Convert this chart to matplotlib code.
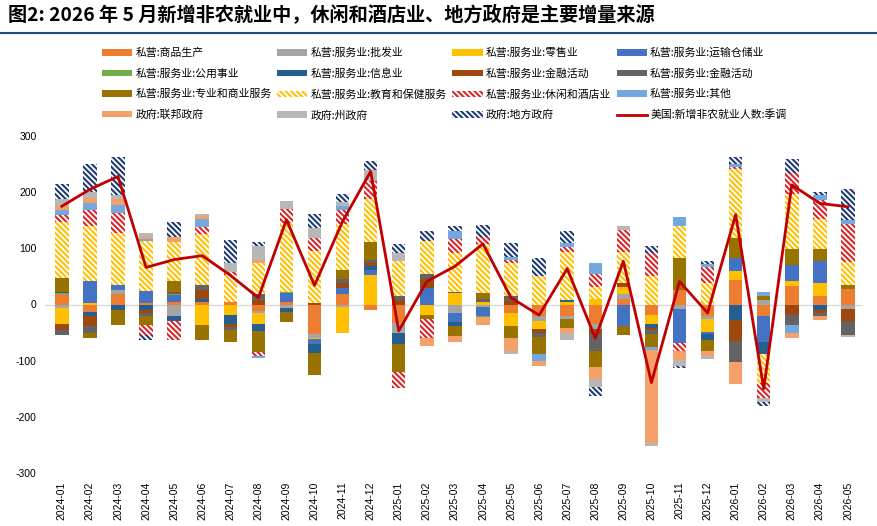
import numpy as np
import matplotlib
matplotlib.use("Agg")
import matplotlib.pyplot as plt
from matplotlib.patches import Patch
from matplotlib.lines import Line2D

plt.rcParams['font.family'] = ['Noto Sans CJK SC', 'DejaVu Sans']
plt.rcParams['hatch.linewidth'] = 1.5
plt.rcParams['axes.unicode_minus'] = False

# DATA (thousand persons)
months = ['2024-01', '2024-02', '2024-03', '2024-04', '2024-05', '2024-06', '2024-07', '2024-08',
          '2024-09', '2024-10', '2024-11', '2024-12', '2025-01', '2025-02', '2025-03', '2025-04',
          '2025-05', '2025-06', '2025-07', '2025-08', '2025-09', '2025-10', '2025-11', '2025-12',
          '2026-01', '2026-02', '2026-03', '2026-04', '2026-05']

goods = [19, -14, 18, 3, 4, 5, 5, -12, 4, -53, 19, -10, -33, 0, 0, 0, -16, -20, -21, -35, 10, -18, 26, -20, 44, -21, 33, 15, 27]
wholesale = [-7, 0, 8, 0, -20, 0, 0, -3, -7, -6, -4, 0, -18, 0, -16, -5, 0, -10, -5, -9, 9, 0, -8, -5, 0, 8, 0, 0, -8]
retail = [-28, 3, 0, 0, 0, -36, -18, -20, 0, -3, -46, 53, 0, -18, 20, 4, -22, -14, 4, 10, 12, -16, 0, -24, 15, 0, 9, 24, 0]
transport = [0, 38, 9, 21, 13, 0, 0, 0, 16, -9, 11, 9, 0, 30, -15, -16, 0, 0, 0, 0, -38, 0, -60, -4, 24, -46, 28, 38, 0]
utilities = [1, 1, 0, 0, 1, 0, 0, 0, 2, 0, 0, 0, 0, 0, 0, -2, 0, 0, 1, 0, 0, 0, 0, 0, 0, 0, 0, 0, 0]
info = [2, -6, -10, -9, -10, 5, -16, -12, -7, -16, 0, 6, -19, 0, -8, 0, 0, 0, 3, 0, 0, -8, 0, -10, -27, -22, 0, -10, 0]
finance = [-10, -18, 0, -7, 2, 15, -6, 8, 0, 3, 8, 5, 8, 15, 0, 0, 7, -6, 0, -8, 8, -4, 0, 0, -38, 0, -18, -6, -22]
finance2 = [-10, -13, 0, -5, 2, 10, -5, 10, 0, 0, 8, 7, 8, 9, 2, 5, 8, -8, 0, -30, 0, -6, 0, 0, -38, 0, -18, -5, -24]
prof = [26, -9, -27, -15, 19, -27, -22, -38, -18, -39, 15, 31, -51, -8, -17, 12, -21, -31, -15, -30, -17, -24, 57, -19, 35, 8, 28, 22, 7]
edu = [99, 98, 93, 89, 70, 90, 47, 56, 123, 93, 83, 76, 61, 59, 70, 86, 59, 50, 85, 21, 55, 50, 56, 38, 124, -50, 98, 54, 41]
leisure = [12, 28, 35, -18, -33, 13, 6, -6, 25, 22, 25, 33, -27, -34, 25, 14, 5, 0, 10, 24, 38, 41, -15, 28, 3, -28, 38, 33, 69]
other = [10, 12, 15, 3, 0, 14, 0, -4, 0, 0, 7, 0, 0, 0, 14, 0, 6, -12, 7, 19, 0, -5, 17, 6, 5, 6, -15, 9, 6]
federal = [6, 10, 9, 5, 10, 6, 0, 6, 0, 0, 0, 0, 0, -14, -10, -13, -24, -8, -9, -21, 0, -166, -15, -9, -38, 0, -9, -6, 0]
state = [12, 11, 8, 7, 0, 3, 15, 25, 14, 18, 7, 20, 15, 0, 0, 0, -6, 0, -14, -13, 7, -5, -11, -6, 0, -6, 0, 0, -4]
local = [27, 50, 67, -9, 25, 0, 41, 6, 0, 25, 13, 16, 16, 17, 8, 20, 25, 33, 21, -17, 0, 13, -4, 6, 13, -7, 25, 6, 56]
payrolls = [175, 205, 228, 66, 80, 87, 52, 12, 151, 34, 148, 237, -47, 41, 68, 108, 12, -19, 64, -60, 77, -139, 41, -15, 160, -150, 213, 180, 174]

names = ['私营:商品生产', '私营:服务业:批发业', '私营:服务业:零售业', '私营:服务业:运输仓储业',
         '私营:服务业:公用事业', '私营:服务业:信息业', '私营:服务业:金融活动', '私营:服务业:金融活动',
         '私营:服务业:专业和商业服务', '私营:服务业:教育和保健服务', '私营:服务业:休闲和酒店业', '私营:服务业:其他',
         '政府:联邦政府', '政府:州政府', '政府:地方政府']
line_name = '美国:新增非农就业人数:季调'

series = [goods, wholesale, retail, transport, utilities, info, finance, finance2,
          prof, edu, leisure, other, federal, state, local]

HATCH = '\\' * 6
# (face colour, hatch colour, hatch)
styles = [('#ED7D31', None, None), ('#A5A5A5', None, None), ('#FFC000', None, None),
          ('#4472C4', None, None), ('#70AD47', None, None), ('#255E91', None, None),
          ('#9E480E', None, None), ('#636363', None, None), ('#997300', None, None),
          ('white', '#FFC000', HATCH), ('white', '#D9262A', HATCH), ('#72A8DE', None, None),
          ('#F4A068', None, None), ('#B7B7B7', None, None), ('white', '#1F3B73', HATCH)]

fig = plt.figure(figsize=(8.77, 5.26), dpi=100)
ax = fig.add_axes([45 / 877, 1 - 473 / 526, (862 - 45) / 877, (473 - 136) / 526])

x = np.arange(len(months))
w = 0.48
pos_base = np.zeros(len(months))
neg_base = np.zeros(len(months))
handles = []
for vals, (fc, hc, hatch), nm in zip(series, styles, names):
    v = np.array(vals, dtype=float)
    bottom = np.where(v >= 0, pos_base, neg_base)
    if hatch:
        ax.bar(x, v, w, bottom=bottom, facecolor=fc, edgecolor=hc, hatch=hatch, linewidth=0, zorder=2)
        handles.append(Patch(facecolor=fc, edgecolor=hc, hatch=hatch, linewidth=0, label=nm))
    else:
        ax.bar(x, v, w, bottom=bottom, color=fc, linewidth=0, zorder=2)
        handles.append(Patch(facecolor=fc, linewidth=0, label=nm))
    pos_base = pos_base + np.where(v > 0, v, 0)
    neg_base = neg_base + np.where(v < 0, v, 0)

ax.plot(x, payrolls, color='#C00000', lw=2, zorder=3)
handles.append(Line2D([0], [0], color='#C00000', lw=2, label=line_name))

ax.axhline(0, color='#D9D9D9', lw=1, zorder=1)
ax.set_ylim(-300, 300)
ax.set_xlim(-0.6, len(months) - 0.5)
ax.set_yticks([-300, -200, -100, 0, 100, 200, 300])
ax.set_xticks(x)
ax.set_xticklabels(months, rotation=90, fontsize=7.5, family=['Liberation Sans', 'DejaVu Sans'])
for t in ax.get_yticklabels():
    t.set_fontsize(7.5)
    t.set_family(['Liberation Sans', 'DejaVu Sans'])
ax.tick_params(length=0, pad=6)
for s in ax.spines.values():
    s.set_visible(False)

# legend is read row by row, matplotlib fills columns first
order = [r * 4 + c for c in range(4) for r in range(4)]
fig.legend([handles[i] for i in order], [handles[i].get_label() for i in order],
           ncol=4, loc='upper left', bbox_to_anchor=(92 / 877, 1 - 38 / 526),
           frameon=False, fontsize=7.8, handlelength=2.8, handleheight=0.55,
           handletextpad=0.3, columnspacing=0.5, labelspacing=0.95)

fig.text(8 / 877, 1 - 4 / 526, '图2: 2026 年 5 月新增非农就业中，休闲和酒店业、地方政府是主要增量来源',
         fontsize=13.8, fontweight='bold', va='top', ha='left')
fig.add_artist(Line2D([0, 1], [1 - 33 / 526, 1 - 33 / 526], color='#1F4E79', lw=1.5))

fig.savefig('out.png', dpi=100)
